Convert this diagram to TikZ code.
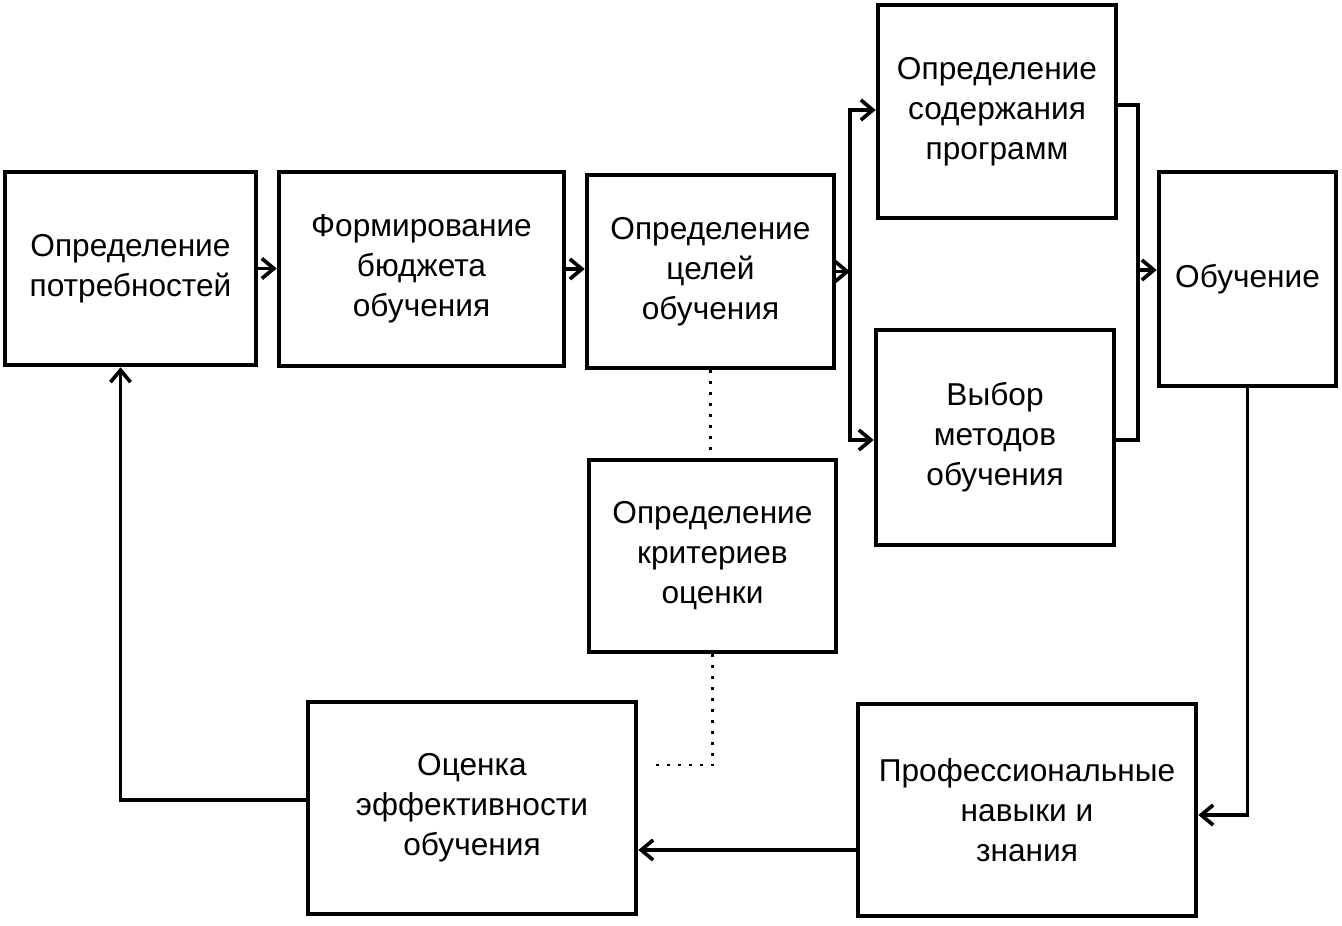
\documentclass[tikz,border=0pt]{standalone}
\usepackage{fontspec}
\setmainfont{Liberation Sans}
\usetikzlibrary{arrows.meta}

\begin{document}
\begin{tikzpicture}[x=0.025cm,y=-0.025cm,
    >={Straight Barb[length=0.3cm,width=0.5cm]},
    stage/.style={draw,line width=3.2pt,align=center,inner sep=0pt,
      font=\fontsize{22.5}{28.5}\selectfont},
    link/.style={line width=2.6pt},
    hint/.style={line width=1.8pt,dash pattern=on 1.8pt off 6pt}]
  \useasboundingbox (0,0) rectangle (1342,926);
  % stages
  \node[stage,minimum width=6.275cm,minimum height=4.825cm] (need) at (130.5,268.5) {Определение\\потребностей};
  \node[stage,minimum width=7.125cm,minimum height=4.85cm] (budget) at (421.5,269) {Формирование\\бюджета\\обучения};
  \node[stage,minimum width=6.175cm,minimum height=4.825cm] (goals) at (710.5,271.5) {Определение\\целей\\обучения};
  \node[stage,minimum width=5.95cm,minimum height=5.325cm] (content) at (997,111.5) {Определение\\содержания\\программ};
  \node[stage,minimum width=5.95cm,minimum height=5.375cm] (methods) at (995,437.5) {Выбор\\методов\\обучения};
  \node[stage,minimum width=4.425cm,minimum height=5.35cm] (train) at (1247.5,279) {Обучение};
  \node[stage,minimum width=6.175cm,minimum height=4.8cm] (criteria) at (712.5,556) {Определение\\критериев\\оценки};
  \node[stage,minimum width=8.2cm,minimum height=5.3cm] (eval) at (472,808) {Оценка\\эффективности\\обучения};
  \node[stage,minimum width=8.45cm,minimum height=5.3cm] (skills) at (1027,810) {Профессиональные\\навыки и\\знания};
  % fork and join
  \coordinate (forkT) at (850,110);
  \coordinate (forkB) at (850,440);
  \coordinate (joinT) at (1138,105);
  \coordinate (joinB) at (1138,440);
  \coordinate (joinM) at (1138,270);
  \coordinate (dotEnd) at (649,765);
  % flow
  \draw[link,->] (need.east) -- (need.east -| budget.west);
  \draw[link,->] (budget.east) -- (budget.east -| goals.west);
  \draw[link,->] (goals.east) -- (goals.east -| forkT);
  \draw[link,<->] (forkT -| content.west) -- (forkT) -- (forkB) -- (forkB -| methods.west);
  \draw[link] (content.east |- joinT) -- (joinT) -- (joinB) -- (methods.east |- joinB);
  \draw[link,->] (joinM) -- (joinM -| train.west);
  \draw[link,->] (train.south) |- ([yshift=-0.125cm]skills.east);
  \draw[link,->] ([yshift=-1cm]skills.west) -- ([yshift=-1cm]skills.west -| eval.east);
  \draw[link,->] ([yshift=0.2cm]eval.west) -| ([xshift=-0.25cm]need.south);
  % criteria
  \draw[hint] (goals.south) -- (criteria.north -| goals.south);
  \draw[hint] (criteria.south) |- (dotEnd);
\end{tikzpicture}
\end{document}
